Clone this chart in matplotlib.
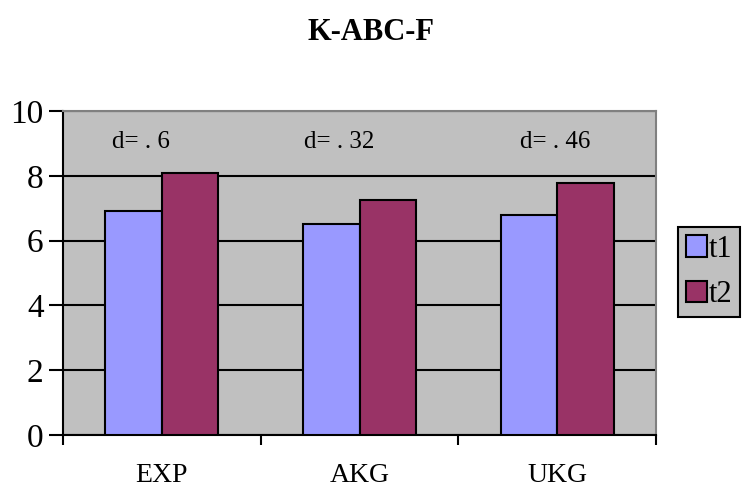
import matplotlib.pyplot as plt
import numpy as np

plt.rcParams['font.family'] = 'Liberation Serif'

groups = ['EXP', 'AKG', 'UKG']
t1 = [6.92, 6.50, 6.79]
t2 = [8.10, 7.24, 7.77]
d_labels = ['d= . 6', 'd= . 32', 'd= . 46']
d_x = [0.25, 1.22, 2.31]

fig = plt.figure(figsize=(7.42, 4.96), dpi=100)
ax = fig.add_axes([63 / 742, 61 / 496, 593 / 742, 324 / 496])
ax.set_facecolor('#C0C0C0')

x = np.arange(len(groups)) + 0.5
w = 0.286
ax.bar(x - w / 2, t1, w, color='#9999FF', edgecolor='black', linewidth=1.5, label='t1', zorder=3)
ax.bar(x + w / 2, t2, w, color='#993366', edgecolor='black', linewidth=1.5, label='t2', zorder=3)

for xi, s in zip(d_x, d_labels):
    ax.text(xi, 9.05, s, fontsize=18, ha='left', va='center', zorder=4)

ax.set_xlim(0, 3)
ax.set_ylim(0, 10)
ax.set_yticks(range(0, 11, 2))
ax.yaxis.grid(True, color='black', linewidth=1.5, zorder=1)
ax.set_axisbelow(True)
ax.set_xticks([0, 1, 2, 3])
ax.set_xticklabels([])
ax.set_xticks(x, minor=True)
ax.set_xticklabels(groups, minor=True, fontsize=20)
ax.tick_params(axis='x', which='minor', length=0, pad=20)
ax.tick_params(axis='x', which='major', direction='out', length=7, width=1.5)
ax.tick_params(axis='y', direction='out', length=10, width=1.5, labelsize=24, pad=4)

for side in ['top', 'right']:
    ax.spines[side].set_color('#808080')
    ax.spines[side].set_linewidth(1.5)
for side in ['left', 'bottom']:
    ax.spines[side].set_linewidth(1.5)

fig.text(0.5, 0.935, 'K-ABC-F', fontsize=22, fontweight='bold', ha='center', va='center')

leg = fig.legend(loc='upper left', bbox_to_anchor=(678 / 742, 1 - 227 / 496), fontsize=22,
                 frameon=True, fancybox=False, handlelength=0.7, handleheight=0.7,
                 handletextpad=0.05, borderpad=0.25, labelspacing=0.55, borderaxespad=0)
leg.get_frame().set_facecolor('#C0C0C0')
leg.get_frame().set_edgecolor('black')
leg.get_frame().set_linewidth(1.5)
leg.get_frame().set_alpha(1)

fig.savefig('out.png', dpi=100)
